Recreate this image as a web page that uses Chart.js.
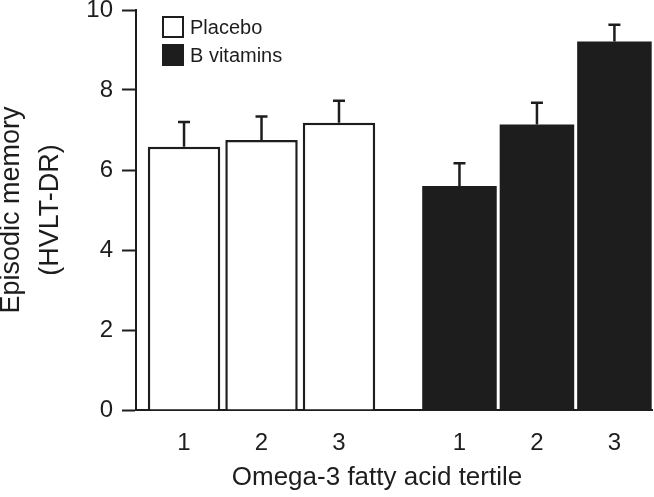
<!DOCTYPE html>
<html>
<head>
<meta charset="utf-8">
<script src="https://cdn.jsdelivr.net/npm/chart.js@4.4.1/dist/chart.umd.min.js"></script>
<style>
  html, body { margin: 0; padding: 0; background: #fff; }
  #wrap { width: 654px; height: 497px; }
</style>
</head>
<body>
<div id="wrap"><canvas id="myChart" width="654" height="497"></canvas></div>
<script>
// tertile labels and values
var tertiles = ['1', '2', '3'];
var placeboMeans = [6.58, 6.75, 7.18];
var placeboSE = [0.62, 0.59, 0.55];
var bvitMeans = [5.6, 7.14, 9.21];
var bvitSE = [0.57, 0.54, 0.42];
var yTicks = [0, 2, 4, 6, 8, 10];
var xTitle = 'Omega-3 fatty acid tertile';

var ink = '#1d1d1d';
var fontFam = '"Liberation Sans", Arial, sans-serif';
var groupShift = 3.555; // distance between the two groups of bars

var placeboPts = placeboMeans.map(function (v, i) { return { x: i + 1, y: v, se: placeboSE[i] }; });
var bvitPts = bvitMeans.map(function (v, i) { return { x: i + 1 + groupShift, y: v, se: bvitSE[i] }; });
var tickPos = placeboPts.concat(bvitPts).map(function (p) { return p.x; });

// error bars, upper half only
var errorBars = {
  id: 'errorBars',
  afterDatasetsDraw: function (chart) {
    var ctx = chart.ctx;
    var xs = chart.scales.x, ys = chart.scales.y;
    ctx.save();
    ctx.strokeStyle = ink;
    ctx.lineWidth = 2.5;
    chart.data.datasets.forEach(function (ds) {
      ds.data.forEach(function (p) {
        var x = xs.getPixelForValue(p.x);
        var y0 = ys.getPixelForValue(p.y);
        var y1 = ys.getPixelForValue(p.y + p.se);
        ctx.beginPath();
        ctx.moveTo(x, y0);
        ctx.lineTo(x, y1);
        ctx.moveTo(x - 6, y1);
        ctx.lineTo(x + 6, y1);
        ctx.stroke();
      });
    });
    ctx.restore();
  }
};

// legend boxes in the upper left of the plot, plus the x title (sits a bit left of centre)
var boxLegend = {
  id: 'boxLegend',
  afterDraw: function (chart) {
    var ctx = chart.ctx;
    var area = chart.chartArea;
    var left = area.left + 26;
    var top = 16;
    ctx.save();
    ctx.font = '20px ' + fontFam;
    ctx.textBaseline = 'middle';
    chart.data.datasets.forEach(function (ds, i) {
      var y = top + i * 28;
      ctx.fillStyle = ds.backgroundColor;
      ctx.fillRect(left, y, 22, 22);
      ctx.strokeStyle = ink;
      ctx.lineWidth = 2;
      ctx.strokeRect(left + 1, y + 1, 20, 20);
      ctx.fillStyle = ink;
      ctx.fillText(ds.label, left + 28, y + 12);
    });
    ctx.font = '26px ' + fontFam;
    ctx.textAlign = 'center';
    ctx.fillText(xTitle, (area.left + area.right) / 2 - 17, 478);
    ctx.restore();
  }
};

var ctx = document.getElementById('myChart').getContext('2d');
new Chart(ctx, {
  type: 'bar',
  data: {
    datasets: [{
      label: 'Placebo',
      data: placeboPts,
      backgroundColor: '#ffffff',
      borderColor: ink,
      borderWidth: 2.5,
      grouped: false,
      categoryPercentage: 1,
      barPercentage: 0.935
    }, {
      label: 'B vitamins',
      data: bvitPts,
      backgroundColor: ink,
      borderWidth: 0,
      grouped: false,
      categoryPercentage: 1,
      barPercentage: 0.962
    }]
  },
  options: {
    responsive: false,
    animation: false,
    layout: { padding: { top: 0, right: 2, bottom: 0, left: 0 } },
    plugins: { legend: { display: false }, tooltip: { enabled: false } },
    scales: {
      x: {
        type: 'linear',
        offset: false,
        min: 0.38,
        max: 7.04,
        afterBuildTicks: function (scale) {
          scale.ticks = tickPos.map(function (v) { return { value: v }; });
        },
        afterFit: function (scale) {
          scale.height = 87;
          scale.paddingLeft = 0;
          scale.paddingRight = 0;
        },
        ticks: {
          color: ink,
          padding: 19,
          autoSkip: false,
          maxRotation: 0,
          font: { family: fontFam, size: 24 },
          callback: function (value, index) { return tertiles[index % 3]; }
        },
        grid: { display: true, drawOnChartArea: false, drawTicks: false },
        border: { display: true, color: ink, width: 2 },
        title: { display: false }
      },
      y: {
        min: 0,
        max: 10,
        afterBuildTicks: function (scale) {
          scale.ticks = yTicks.map(function (v) { return { value: v }; });
        },
        afterFit: function (scale) {
          scale.width = 136;
          scale.paddingTop = 10;
          scale.paddingBottom = 0;
        },
        ticks: {
          color: ink,
          padding: 9,
          font: { family: fontFam, size: 24 }
        },
        grid: { drawOnChartArea: false, tickLength: 14, tickWidth: 2, tickColor: ink },
        border: { display: true, color: ink, width: 2 },
        title: {
          display: true,
          text: ['Episodic memory', '(HVLT-DR)'],
          color: ink,
          padding: { top: -8, bottom: 0 },
          font: { family: fontFam, size: 27, lineHeight: 1.44 }
        }
      }
    }
  },
  plugins: [errorBars, boxLegend]
});
</script>
</body>
</html>
